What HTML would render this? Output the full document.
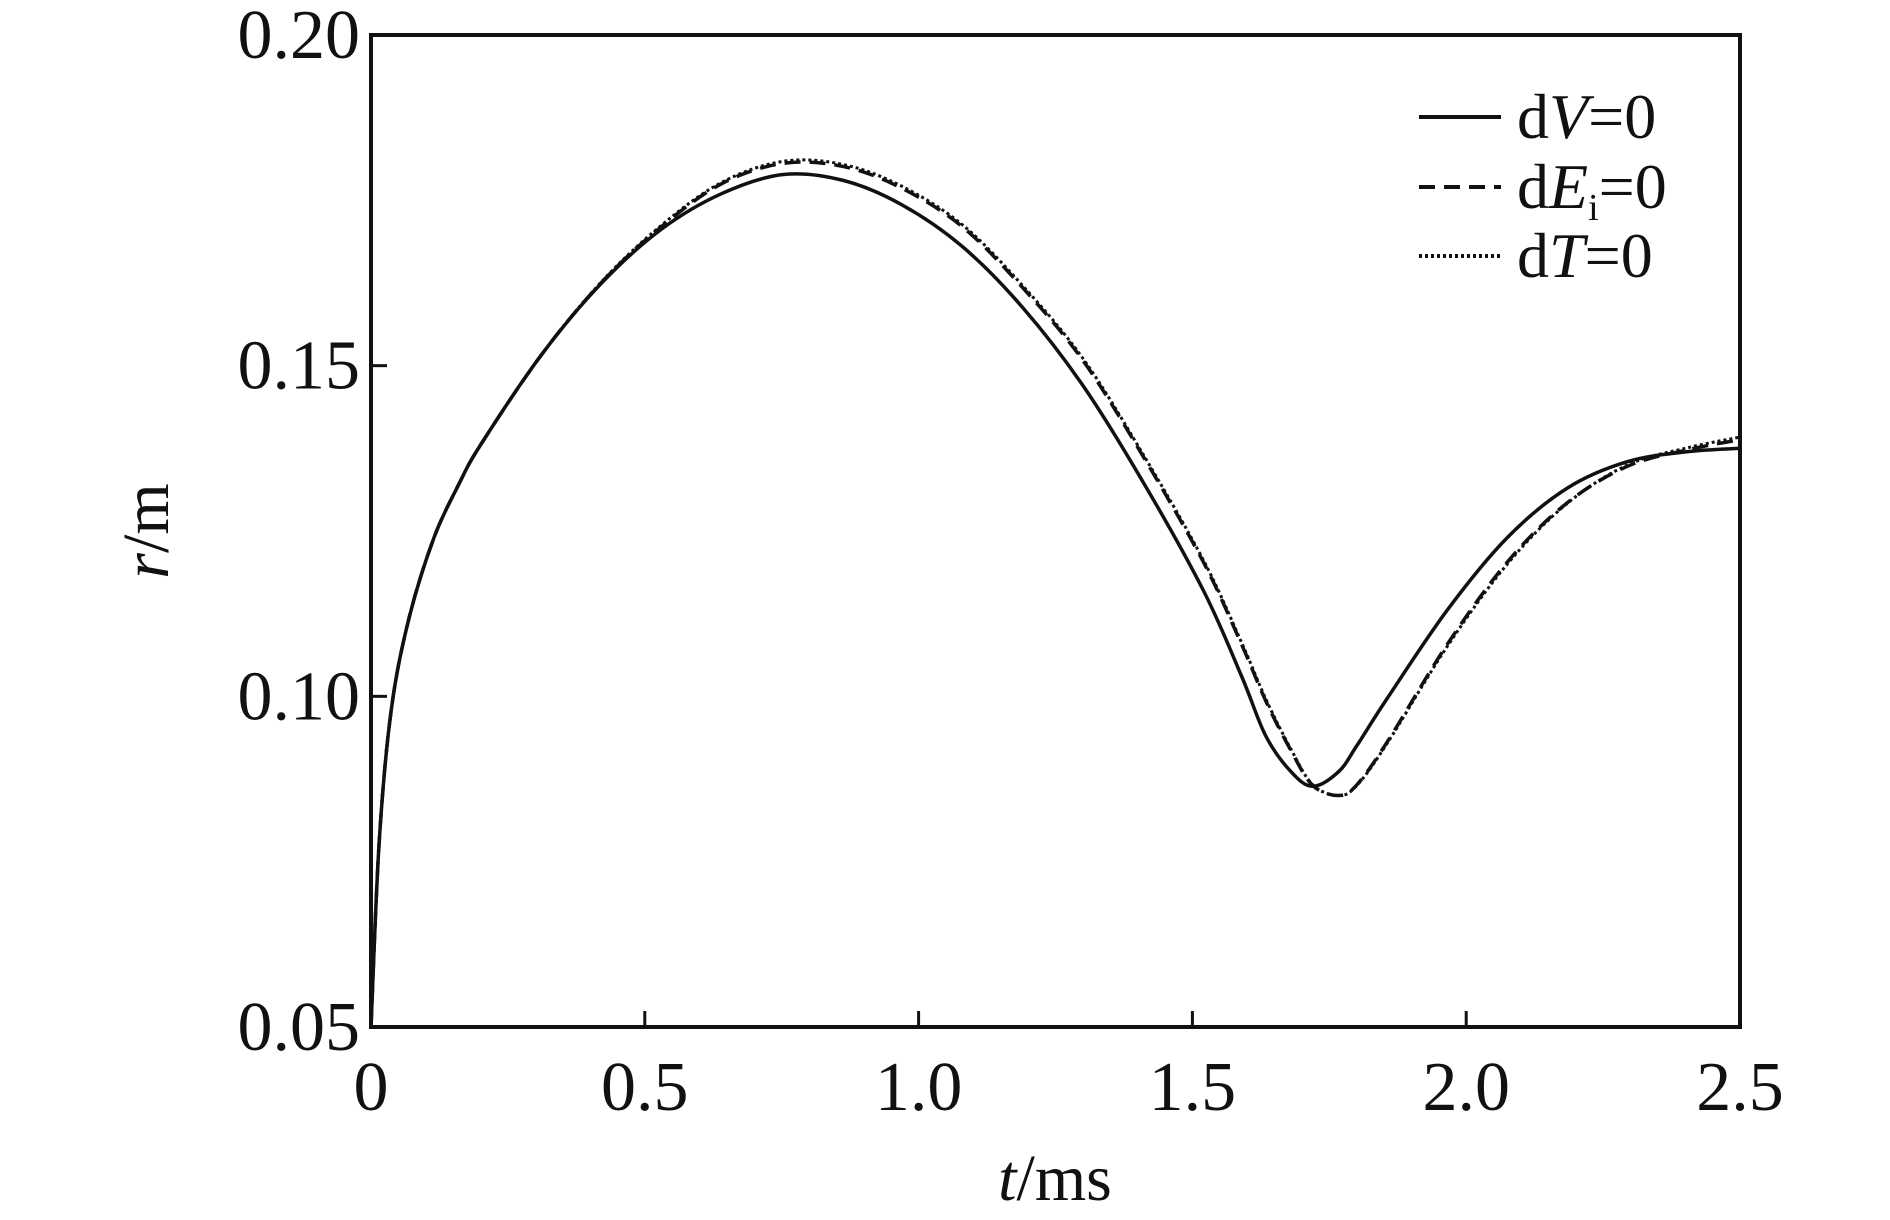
<!DOCTYPE html>
<html><head><meta charset="utf-8"><style>
html,body{margin:0;padding:0;background:#fff;}
svg{display:block;font-family:"Liberation Serif","Times New Roman",serif;}
</style></head><body>
<svg id="chart" width="1890" height="1220" viewBox="0 0 1890 1220" xmlns="http://www.w3.org/2000/svg">
<rect x="0" y="0" width="1890" height="1220" fill="#fff"/>
<g id="plot"></g>
<g id="axes"></g>
<g id="legend">
  <line x1="1419" y1="117" x2="1501" y2="117" stroke="#111" stroke-width="4"/>
  <text x="1517" y="138" font-size="64" fill="#111">d<tspan font-style="italic">V</tspan>=0</text>
  <line x1="1419" y1="187" x2="1501" y2="187" stroke="#111" stroke-width="4" stroke-dasharray="16 9"/>
  <text x="1517" y="208" font-size="64" fill="#111">d<tspan font-style="italic">E</tspan><tspan font-size="38" dy="12">i</tspan><tspan dy="-12">=0</tspan></text>
  <line x1="1419" y1="256" x2="1501" y2="256" stroke="#111" stroke-width="4" stroke-dasharray="3 3"/>
  <text x="1517" y="277" font-size="64" fill="#111">d<tspan font-style="italic">T</tspan>=0</text>
</g>
<text x="1055" y="1200" font-size="66" text-anchor="middle" fill="#111"><tspan font-style="italic">t</tspan>/ms</text>
<text x="0" y="0" font-size="66" text-anchor="middle" fill="#111" transform="translate(168,531) rotate(-90)"><tspan font-style="italic">r</tspan>/m</text>
</svg>
<script>
const tVals = [0, 0.015, 0.037, 0.07, 0.115, 0.16, 0.2, 0.31, 0.42, 0.53, 0.64, 0.753, 0.863, 0.97, 1.08, 1.19, 1.30, 1.41, 1.52, 1.59, 1.634, 1.68, 1.72, 1.767, 1.80, 1.855, 1.965, 2.075, 2.185, 2.295, 2.405, 2.5];
const rDV  = [0.050, 0.078, 0.098, 0.112, 0.124, 0.132, 0.138, 0.1515, 0.1624, 0.1706, 0.176, 0.1789, 0.178, 0.1743, 0.168, 0.1588, 0.147, 0.1324, 0.116, 0.103, 0.094, 0.0886, 0.0864, 0.0886, 0.0925, 0.0996, 0.113, 0.124, 0.1315, 0.1355, 0.137, 0.1375];
const rDEi = [0.050, 0.078, 0.098, 0.112, 0.124, 0.132, 0.138, 0.1515, 0.1625, 0.171, 0.1775, 0.1806, 0.1801, 0.1768, 0.1710, 0.1618, 0.1508, 0.1363, 0.1203, 0.1078, 0.0993, 0.0918, 0.0865, 0.0850, 0.0866, 0.0930, 0.1078, 0.1203, 0.1293, 0.1348, 0.1373, 0.1388];
const rDT  = [0.050, 0.078, 0.098, 0.112, 0.124, 0.132, 0.138, 0.1515, 0.1626, 0.1712, 0.1777, 0.1809, 0.1804, 0.1771, 0.1713, 0.1621, 0.1511, 0.1366, 0.1206, 0.1081, 0.0996, 0.0920, 0.0866, 0.0850, 0.0865, 0.0928, 0.1075, 0.1200, 0.1292, 0.1350, 0.1376, 0.1392];
const xTicks = [0, 0.5, 1.0, 1.5, 2.0, 2.5];
const xTickLabels = ["0", "0.5", "1.0", "1.5", "2.0", "2.5"];
const yTicks = [0.05, 0.10, 0.15, 0.20];
const yTickLabels = ["0.05", "0.10", "0.15", "0.20"];

const L=371, R=1740, T=35, B=1027;
const xMin=0, xMax=2.5, yMin=0.05, yMax=0.20;
function sx(v){return L+(v-xMin)/(xMax-xMin)*(R-L);}
function sy(v){return B-(v-yMin)/(yMax-yMin)*(B-T);}
const NS="http://www.w3.org/2000/svg";
function mk(tag,attrs,parent){const e=document.createElementNS(NS,tag);for(const k in attrs)e.setAttribute(k,attrs[k]);parent.appendChild(e);return e;}

function pathFor(ts,rs){
  const p=ts.map((t,i)=>[sx(t),sy(rs[i])]);
  let d="M"+p[0][0].toFixed(1)+","+p[0][1].toFixed(1);
  for(let i=0;i<p.length-1;i++){
    const p0=p[Math.max(0,i-1)],p1=p[i],p2=p[i+1],p3=p[Math.min(p.length-1,i+2)];
    const c1x=p1[0]+(p2[0]-p0[0])/6,c1y=p1[1]+(p2[1]-p0[1])/6;
    const c2x=p2[0]-(p3[0]-p1[0])/6,c2y=p2[1]-(p3[1]-p1[1])/6;
    d+=" C"+c1x.toFixed(1)+","+c1y.toFixed(1)+" "+c2x.toFixed(1)+","+c2y.toFixed(1)+" "+p2[0].toFixed(1)+","+p2[1].toFixed(1);
  }
  return d;
}
const plot=document.getElementById('plot');
const l1=mk('path',{d:pathFor(tVals,rDV),fill:'none',stroke:'#111','stroke-width':3.5},plot);


const l2=mk('path',{d:pathFor(tVals,rDEi),fill:'none',stroke:'#111','stroke-width':3.5,'stroke-dasharray':'16 9'},plot);


const l3=mk('path',{d:pathFor(tVals,rDT),fill:'none',stroke:'#111','stroke-width':3,'stroke-dasharray':'3 3'},plot);



const axes=document.getElementById('axes');
const frame=mk('rect',{x:L,y:T,width:R-L,height:B-T,fill:'none',stroke:'#111','stroke-width':4},axes);


xTicks.forEach((v,i)=>{
  const x=sx(v);
  if(i>0&&i<xTicks.length-1){
    const tk=mk('line',{x1:x,y1:B,x2:x,y2:B-16,stroke:'#111','stroke-width':3},axes);
    
    
  }
  const tx=mk('text',{x:x,y:1110,'font-size':70,'text-anchor':'middle',fill:'#111'},axes);
  tx.textContent=xTickLabels[i];
  
  
});
yTicks.forEach((v,i)=>{
  const y=sy(v);
  if(i>0&&i<yTicks.length-1){
    const tk=mk('line',{x1:L,y1:y,x2:L+16,y2:y,stroke:'#111','stroke-width':3},axes);
    
    
  }
  const tx=mk('text',{x:360,y:y+23,'font-size':70,'text-anchor':'end',fill:'#111'},axes);
  tx.textContent=yTickLabels[i];
  
  
});
</script>
</body></html>
